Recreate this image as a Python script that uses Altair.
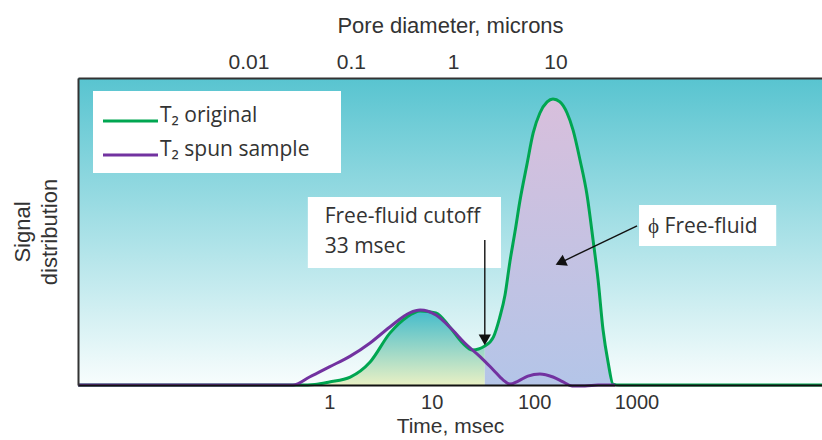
import altair as alt
import pandas as pd

# T2 relaxation-time distributions: time in ms, normalized signal amplitude
green_t = [0.0035, 0.52, 0.72, 1.0, 1.6, 2.5, 3.9, 5.7, 7.7, 11, 15, 20, 25, 33,
           40, 46, 52, 58, 65, 73, 85, 98, 114, 134, 153, 179, 210, 240, 281,
           329, 377, 422, 472, 528, 591, 690, 65000]
green_a = [0, 0, 0.002, 0.010, 0.026, 0.075, 0.169, 0.221, 0.241, 0.235, 0.189,
           0.137, 0.114, 0.127, 0.156, 0.218, 0.293, 0.401, 0.498, 0.603, 0.717,
           0.821, 0.886, 0.922, 0.932, 0.922, 0.886, 0.831, 0.733, 0.619, 0.472,
           0.342, 0.179, 0.075, 0.003, 0, 0]

purple_t = [0.0035, 0.44, 0.64, 1.0, 1.6, 2.5, 3.9, 6.1, 7.7, 11, 16, 21, 30, 40,
            50, 58, 70, 87, 114, 153, 192, 235, 314, 422, 618]
purple_a = [0, 0, 0.026, 0.059, 0.094, 0.137, 0.189, 0.235, 0.244, 0.228, 0.179,
            0.137, 0.091, 0.049, 0.016, 0.003, 0.013, 0.029, 0.036, 0.026, 0.010,
            -0.003, -0.003, 0, 0]

SERIES = ["T₂ original", "T₂ spun sample"]
COLORS = ["#00a651", "#7232a0"]

TIME_TICKS = [1, 10, 100, 1000]
PORE_TICKS = [0.01, 0.1, 1, 10]
MS_PER_MICRON = 16.2          # T2 (ms) corresponding to a 1-micron pore
CUTOFF_MS = 33
T_DOMAIN = [0.0035, 65000]

W, H = 744, 307
FONT = "Liberation Sans"
TEXT_FONT = "Open Sans"
INK = "#333333"
ARROW = "#111111"

curves = pd.concat([
    pd.DataFrame({"t": green_t, "a": green_a, "series": SERIES[0]}),
    pd.DataFrame({"t": purple_t, "a": purple_a, "series": SERIES[1]}),
], ignore_index=True)
original = curves[curves["series"] == SERIES[0]]


def vgrad(top, bottom):
    return alt.LinearGradient(
        gradient="linear", x1=0, x2=0, y1=0, y2=1,
        stops=[alt.GradientStop(color=top, offset=0),
               alt.GradientStop(color=bottom, offset=1)])


x_scale = alt.Scale(type="log", domain=T_DOMAIN, nice=False)
x_axis = alt.Axis(orient="bottom", values=TIME_TICKS, format="d", title="Time, msec",
                  ticks=False, grid=False, domainColor="#111111", domainWidth=2,
                  labelFont=FONT, labelFontSize=20, labelColor=INK, labelPadding=7,
                  titleFont=FONT, titleFontSize=21, titleFontWeight="normal",
                  titleColor=INK, titlePadding=3, zindex=1)
y_scale = alt.Scale(domain=[0, 1], nice=False, zero=True)
y_axis = alt.Axis(labels=False, ticks=False, grid=False, domainColor="#333333",
                  domainWidth=2, title=["Signal", "distribution"], titleFont=FONT,
                  titleFontSize=22, titleFontWeight="normal", titleColor=INK,
                  titlePadding=17, titleLineHeight=27, zindex=1)


def X(field="t"):
    return alt.X(f"{field}:Q", scale=x_scale, axis=x_axis)


def Y(field="a"):
    return alt.Y(f"{field}:Q", scale=y_scale, axis=y_axis)


one_row = pd.DataFrame({"k": [0]})

backdrop = alt.Chart(one_row).mark_rect(fill=vgrad("#58c4d0", "#f8fdfd")).encode(
    x=alt.value(0), x2=alt.value("width"), y=alt.value(0), y2=alt.value("height"))

# bound fluid (below cutoff) and free fluid (above cutoff) under the original curve
bound_fill = alt.Chart(original).transform_filter(alt.datum.t <= CUTOFF_MS).mark_area(
    interpolate="monotone", fill=vgrad("#45bccb", "#e8f0c4")).encode(x=X(), y=Y())
free_fill = alt.Chart(original).transform_filter(alt.datum.t >= CUTOFF_MS).mark_area(
    interpolate="monotone", fill=vgrad("#d8bfdc", "#b4c5e8")).encode(x=X(), y=Y())

lines = alt.Chart(curves).mark_line(interpolate="monotone", strokeWidth=3).encode(
    x=X(), y=Y(),
    color=alt.Color("series:N", scale=alt.Scale(domain=SERIES, range=COLORS), legend=None))

# annotation boxes, texts and arrows (data coordinates)
boxes = pd.DataFrame({"t": [0.616, 1060], "t2": [47.5, 23200],
                      "a": [0.381, 0.453], "a2": [0.612, 0.586]})
notes = pd.DataFrame({"t": [0.90, 0.90, 1298], "a": [0.528, 0.430, 0.495],
                      "text": ["Free-fluid cutoff", f"{CUTOFF_MS} msec", "ϕ Free-fluid"]})
shafts = pd.DataFrame({"t": [CUTOFF_MS, 1014], "t2": [CUTOFF_MS, 181],
                       "a": [0.472, 0.518], "a2": [0.147, 0.399]})
heads = pd.DataFrame({"t": [CUTOFF_MS, 181], "a": [0.147, 0.399], "angle": [180, 245]})

box_layer = alt.Chart(boxes).mark_rect(fill="white").encode(
    x=X(), x2="t2:Q", y=Y(), y2="a2:Q")
note_layer = alt.Chart(notes).mark_text(
    align="left", baseline="alphabetic", font=TEXT_FONT, fontSize=21, color=INK).encode(
    x=X(), y=Y(), text="text:N")
shaft_layer = alt.Chart(shafts).mark_rule(color=ARROW, strokeWidth=1.4).encode(
    x=X(), x2="t2:Q", y=Y(), y2="a2:Q")
head_layer = alt.Chart(heads).mark_point(
    shape="triangle-up", filled=True, size=150, color=ARROW, opacity=1).encode(
    x=X(), y=Y(), angle=alt.Angle("angle:Q", scale=None))

# legend panel
LEG_X, LEG_Y, LEG_W, LEG_H = 15, 13, 248, 82
legend_layers = [alt.Chart(one_row).mark_rect(fill="white").encode(
    x=alt.value(LEG_X), x2=alt.value(LEG_X + LEG_W),
    y=alt.value(LEG_Y), y2=alt.value(LEG_Y + LEG_H))]
for i, (name, col) in enumerate(zip(SERIES, COLORS)):
    row_y = LEG_Y + 30 + 34 * i
    legend_layers.append(alt.Chart(one_row).mark_rule(color=col, strokeWidth=3).encode(
        x=alt.value(LEG_X + 10), x2=alt.value(LEG_X + 65), y=alt.value(row_y)))
    legend_layers.append(alt.Chart(one_row).mark_text(
        align="left", baseline="alphabetic", font=TEXT_FONT, fontSize=21, color=INK).encode(
        x=alt.value(LEG_X + 67), y=alt.value(row_y + 1), text=alt.value(name)))

# pore diameter axis along the top
pore_axis = alt.Chart(pd.DataFrame({"p": PORE_TICKS})).mark_point(opacity=0).encode(
    x=alt.X("p:Q",
            scale=alt.Scale(type="log", nice=False,
                            domain=[T_DOMAIN[0] / MS_PER_MICRON, T_DOMAIN[1] / MS_PER_MICRON]),
            axis=alt.Axis(orient="top", values=PORE_TICKS, format="~g",
                          title="Pore diameter, microns", ticks=False, grid=False,
                          domainColor="#333333", domainWidth=2, labelFont=FONT,
                          labelFontSize=21, labelColor=INK, labelPadding=6,
                          titleFont=FONT, titleFontSize=22, titleFontWeight="normal",
                          titleColor=INK, titlePadding=14, zindex=1)))

inner = alt.layer(backdrop, bound_fill, free_fill, lines, box_layer, note_layer,
                  shaft_layer, head_layer, *legend_layers)

chart = alt.layer(inner, pore_axis).resolve_scale(x="independent").properties(
    width=W, height=H,
    autosize=alt.AutoSizeParams(type="none"),
    padding={"left": 78, "top": 78, "right": 0, "bottom": 55},
    background="white",
).configure_view(stroke=None)

chart.save("out.html", embed_options={"renderer": "svg", "actions": False})
